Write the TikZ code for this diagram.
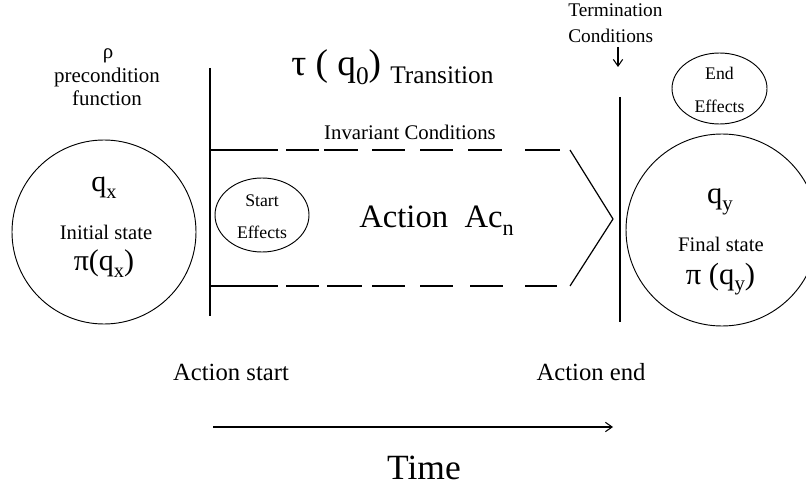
\documentclass[tikz,border=0pt]{standalone}
\usepackage{fontspec}
\setmainfont{Liberation Serif}
\usetikzlibrary{shapes.geometric,arrows.meta}
\newcommand\sbs[1]{\raisebox{-0.22em}{\scalebox{0.68}{#1}}}
\newcommand\fs[1]{\fontsize{#1}{#1}\selectfont}
\begin{document}
\begin{tikzpicture}[x=0.75pt,y=-0.75pt,
  bar/.style={line width=1.1pt},
  dsh/.style={line width=1.1pt},
  chev/.style={line width=0.9pt},
  state/.style={circle,draw,line width=0.7pt,inner sep=0pt},
  eff/.style={ellipse,draw,line width=0.7pt,inner sep=0pt},
  txt/.style={inner sep=0pt,anchor=base},
  tip/.style={-{Straight Barb[length=5pt,width=7pt]},line width=0.8pt}
]
\useasboundingbox (0,0) rectangle (806,488);
\fill[white] (0,0) rectangle (806,488);
\clip (0,0) rectangle (806,488);

% states and effect ellipses
\node[state,minimum size=138pt] (init) at (104,232) {};
\node[state,minimum size=144pt] (final) at (722,230) {};
\node[eff,minimum width=70.5pt,minimum height=55.5pt] (se) at (262,215) {};
\node[eff,minimum width=71.25pt,minimum height=53.25pt] (ee) at (719.5,88.5) {};

% start / end bars
\coordinate (s1) at (210,68);
\coordinate (s2) at (210,316);
\draw[bar] (s1) -- (s2);
\coordinate (e1) at (620,97);
\coordinate (e2) at (620,322);
\draw[bar] (e1) -- (e2);

% dashed invariant boundaries
\foreach \a/\b in {211/278,286/319,324/358,372/405,420/453,468/502,525/560}
  \draw[dsh] (\a,150) -- (\b,150);
\foreach \a/\b in {211/278,286/319,327/362,372/405,420/453,470/503,525/557}
  \draw[dsh] (\a,286) -- (\b,286);

% chevron
\coordinate (c1) at (570,150);
\coordinate (c2) at (613,219);
\coordinate (c3) at (570,286);
\draw[chev] (c1) -- (c2) -- (c3);

% arrows
\coordinate (ta) at (618,47);
\coordinate (tb) at (618,67);
\draw[tip] (ta) -- (tb);
\coordinate (t1) at (213,427);
\coordinate (t2) at (613,427);
\draw[tip] (t1) -- (t2);

% texts
\node[txt,anchor=base west,font=\fs{14.5}] (term) at (568,17) {Termination};
\node[txt,anchor=base west,font=\fs{14.5}] (cond) at (568,43) {Conditions};
\node[txt,font=\fs{15.7}] (rho) at (108,59) {ρ};
\node[txt,font=\fs{15.7}] (pre) at (107,83) {precondition};
\node[txt,font=\fs{15.7}] (fun) at (107,106) {function};
\node[txt,anchor=base west,font=\fs{28}] (tau) at (291,76) {τ ( q\sbs{0})};
\node[txt,anchor=base west,font=\fs{19}] (trn) at (390,84) {Transition};
\node[txt,font=\fs{15.6}] (inv) at (410,140) {Invariant Conditions};
\node[txt,font=\fs{13.3}] (st) at (262,206.5) {Start};
\node[txt,font=\fs{13.3}] (stE) at (262,238.5) {Effects};
\node[txt,font=\fs{13.3}] (en) at (719.5,80) {End};
\node[txt,font=\fs{13.3}] (enE) at (719.5,113) {Effects};
\node[txt,anchor=base west,font=\fs{24.5}] (act) at (359,228) {Action\ \ Ac\sbs{n}};
\node[txt,font=\fs{22.5}] (qx) at (104,191.5) {q\sbs{x}};
\node[txt,font=\fs{15.5}] (ini) at (106,240) {Initial state};
\node[txt,font=\fs{22.5}] (pix) at (104,271) {π(q\sbs{x})};
\node[txt,font=\fs{23}] (qy) at (720,203.5) {q\sbs{y}};
\node[txt,font=\fs{15.5}] (fin) at (721,251.5) {Final state};
\node[txt,font=\fs{23}] (piy) at (720.5,284) {π (q\sbs{y})};
\node[txt,font=\fs{18.5}] (as) at (231,380) {Action start};
\node[txt,font=\fs{18.5}] (ae) at (591,380) {Action end};
\node[txt,font=\fs{26.6}] (time) at (424,479) {Time};
\end{tikzpicture}
\end{document}
